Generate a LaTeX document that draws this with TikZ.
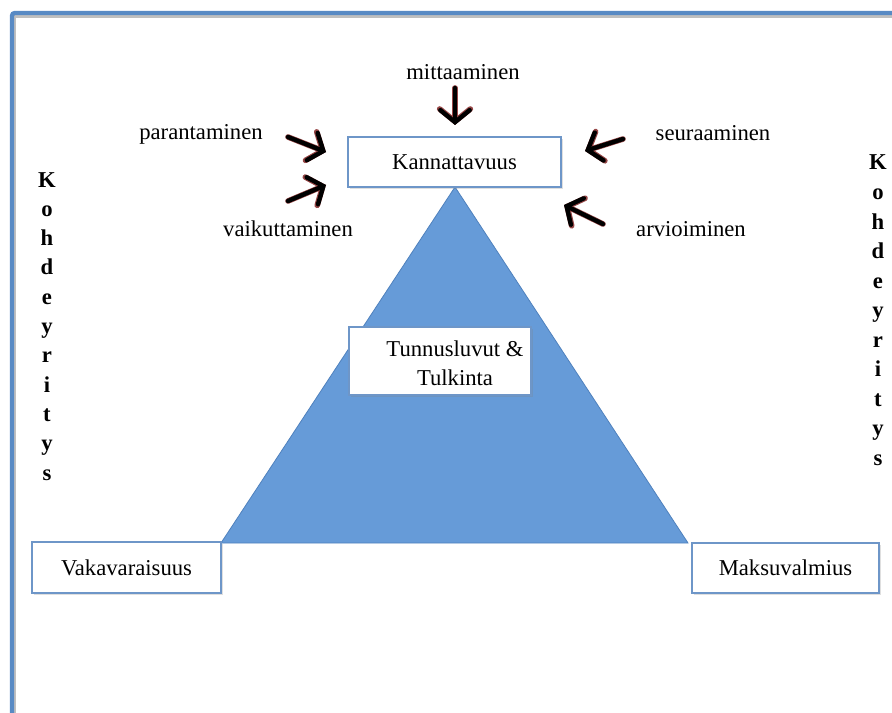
\documentclass[tikz,border=0pt]{standalone}
\usepackage{fontspec}
\setmainfont{Liberation Serif}
\usetikzlibrary{arrows.meta,shadows}
\definecolor{frameblue}{RGB}{88,138,196}
\definecolor{triblue}{RGB}{102,155,216}
\definecolor{triedge}{RGB}{79,129,189}
\definecolor{boxedge}{RGB}{110,150,200}
\definecolor{arrowred}{RGB}{150,70,70}
\tikzset{
  lbl/.style={font=\fontsize{17}{20}\selectfont, inner sep=0pt},
  vbox/.style={draw=boxedge, line width=0.9pt, fill=white, inner sep=0pt,
    font=\fontsize{17}{20}\selectfont, align=center,
    drop shadow={opacity=0.25, shadow xshift=1.2pt, shadow yshift=-1.5pt}},
  vletter/.style={font=\bfseries\fontsize{17}{20}\selectfont, inner sep=0pt},
  arrowback/.style={line width=4.2pt, color=arrowred, line cap=round,
    -{Straight Barb[length=9.3pt, width=23pt, line cap=round]}},
  arrowfront/.style={line width=3.3pt, color=black, line cap=round,
    -{Straight Barb[length=9pt, width=22pt, line cap=round]}},
}
\begin{document}
\begin{tikzpicture}[x=0.75pt, y=-0.75pt]
\useasboundingbox (0,0) rectangle (892,713);
% frame with shadow
\draw[line width=2.2pt, color=black!25] (15,713) -- (15,16.5) -- (892,16.5);
\draw[line width=3.2pt, color=frameblue, rounded corners=2pt] (12,713) -- (12,13) -- (892,13);
% triangle
\path[fill=triblue, draw=triedge, line width=0.6pt] (455,187) -- (688,543) -- (221,543) -- cycle;
% boxes
\node[vbox, minimum width=213*0.75pt, minimum height=50*0.75pt] (kan) at (454.5,162) {Kannattavuus};
\node[vbox, minimum width=182*0.75pt, minimum height=68*0.75pt] (tun) at (440,361) {};
\node[lbl, align=center, font=\fontsize{17}{22}\selectfont] (tuntext) at (455,363) {Tunnusluvut \&\\Tulkinta};
\node[vbox, minimum width=189*0.75pt, minimum height=51*0.75pt] (vak) at (126.5,567.5) {Vakavaraisuus};
\node[vbox, minimum width=187*0.75pt, minimum height=50*0.75pt] (mak) at (785.5,568) {Maksuvalmius};
% labels
\node[lbl] (mit) at (463,72) {mittaaminen};
\node[lbl] (par) at (201,134) {parantaminen};
\node[lbl] (vai) at (288,229) {vaikuttaminen};
\node[lbl] (seu) at (713,133) {seuraaminen};
\node[lbl] (arv) at (691,229) {arvioiminen};
% arrow endpoints
\coordinate (m1) at (455,88);  \coordinate (m2) at (455,125);
\coordinate (p1) at (288,137); \coordinate (p2) at (326,152);
\coordinate (v1) at (288,201); \coordinate (v2) at (326,185);
\coordinate (s1) at (623,139); \coordinate (s2) at (585,151);
\coordinate (a1) at (603,224); \coordinate (a2) at (564,205);
\foreach \u/\w in {m1/m2,p1/p2,v1/v2,s1/s2,a1/a2}{
  \draw[arrowback] (\u) -- (\w);
  \draw[arrowfront] (\u) -- (\w);
}
% vertical words
\foreach \l [count=\i from 0] in {K,o,h,d,e,y,r,i,t,y,s}{
  \node[vletter, anchor=base] (kl\i) at (47,{187+29.3*\i}) {\l};
  \node[vletter, anchor=base] (kr\i) at (878,{170+29.5*\i}) {\l};
}
\end{tikzpicture}
\end{document}
